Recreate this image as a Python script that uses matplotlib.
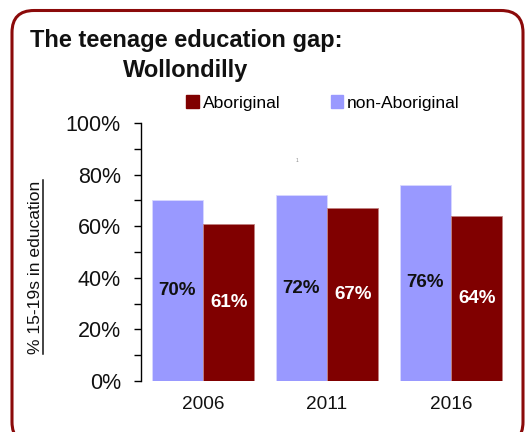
import matplotlib
matplotlib.use("Agg")
import matplotlib.pyplot as plt
import numpy as np
from matplotlib.patches import FancyBboxPatch, Patch
from matplotlib.lines import Line2D

plt.rcParams['font.family'] = ['Liberation Sans', 'DejaVu Sans']

years = ['2006', '2011', '2016']
non_aboriginal = [70, 72, 76]
aboriginal = [61, 67, 64]

col_non = '#9999ff'
col_abo = '#800000'
col_frame = '#8b0a0a'

fig = plt.figure(figsize=(5.31, 4.32), dpi=100)

# rounded frame round the whole chart (bottom edge runs off the canvas)
frame = FancyBboxPatch((0.12, -0.12), 5.11, 4.335,
                       boxstyle="round,pad=0,rounding_size=0.22",
                       transform=fig.dpi_scale_trans, fill=False,
                       edgecolor=col_frame, linewidth=2.2, zorder=0)
fig.add_artist(frame)

ax = fig.add_axes([141 / 531, 1 - 381 / 432, 372 / 531, 258 / 432])

index = np.arange(len(years))
width = 0.415
b_non = ax.bar(index - width / 2, non_aboriginal, width, color=col_non,
               edgecolor='#d8d8ff', linewidth=0.6)
b_abo = ax.bar(index + width / 2, aboriginal, width, color=col_abo,
               edgecolor='#c08080', linewidth=0.6)

ax.bar_label(b_non, labels=[str(v) + '%' for v in non_aboriginal], label_type='center',
             fontsize=13.5, fontweight='bold', color='#111111')
ax.bar_label(b_abo, labels=[str(v) + '%' for v in aboriginal], label_type='center',
             fontsize=13.5, fontweight='bold', color='white')

ax.set_xlim(-0.5, 2.5)
ax.set_ylim(0, 100)
ax.set_xticks(index)
ax.set_xticklabels(years)
ax.set_yticks(np.arange(0, 101, 20))
ax.set_yticklabels([str(v) + '%' for v in range(0, 101, 20)])
ax.set_yticks(np.arange(10, 100, 20), minor=True)
ax.tick_params(axis='x', length=0, pad=10.5, labelsize=13.7, labelcolor='#111111')
ax.tick_params(axis='y', which='both', direction='out', length=5, width=1,
               pad=9.5, labelsize=15.5, labelcolor='#111111')
for s in ['top', 'right', 'bottom']:
    ax.spines[s].set_visible(False)
ax.spines['left'].set_linewidth(1)

# title, two centred lines
fig.text(186 / 531, 1 - 41 / 432, 'The teenage education gap:', ha='center', va='center',
         fontsize=17, fontweight='bold', color='#111111')
fig.text(186 / 531, 1 - 70 / 432, 'Wollondilly', ha='center', va='center',
         fontsize=17, fontweight='bold', color='#111111')

fig.legend(handles=[Patch(color=col_abo), Patch(color=col_non)],
           labels=['Aboriginal', 'non-Aboriginal'], ncol=2, frameon=False,
           fontsize=12.6, handlelength=0.72, handleheight=0.72, handletextpad=0.2,
           columnspacing=2.9, loc='center', bbox_to_anchor=(323 / 531, 1 - 103 / 432))

# underlined y label
ylab = fig.text(36 / 531, 1 - 267 / 432, '% 15-19s in education', rotation=90,
                ha='center', va='center', fontsize=12.6, color='#111111')
fig.canvas.draw()
bb = ylab.get_window_extent()
W, H = fig.bbox.width, fig.bbox.height
ux = (bb.x1 - 1) / W
fig.add_artist(Line2D([ux, ux], [bb.y0 / H, bb.y1 / H], color='#111111', linewidth=1.1))

fig.text(297 / 531, 1 - 160 / 432, '1', fontsize=3.5, color='#888888', ha='center', va='center')

fig.savefig('out.png', dpi=100)
